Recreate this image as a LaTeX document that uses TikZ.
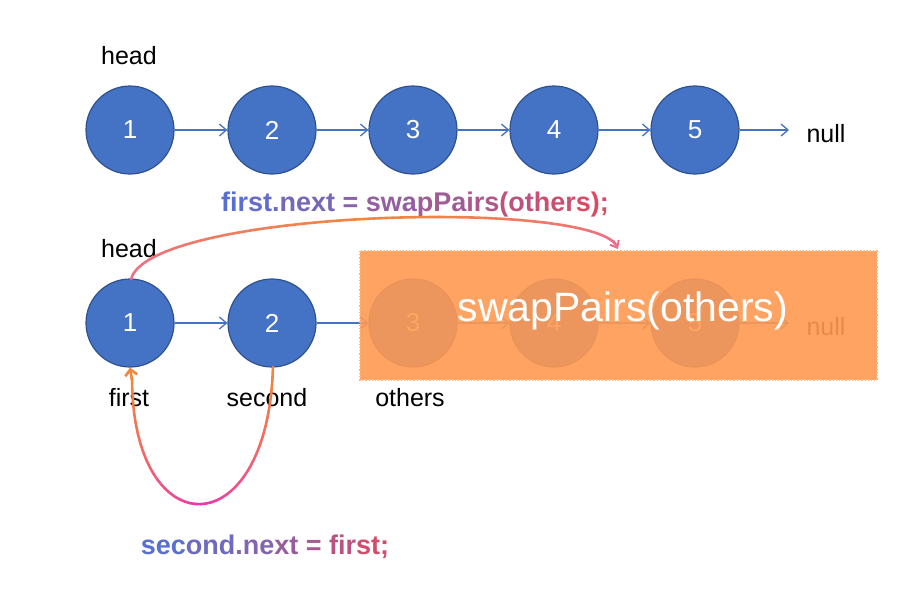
\documentclass[tikz,border=0pt]{standalone}
\usepackage{fontspec}
\setmainfont{Liberation Sans}
\usetikzlibrary{arrows.meta,calc}
\definecolor{nodeblue}{HTML}{4472C4}
\definecolor{nodeedge}{HTML}{2F528F}
\definecolor{boxorange}{HTML}{FF9A52}
\definecolor{curveorange}{HTML}{F0883E}
\definecolor{curvemagenta}{HTML}{F032B4}
\definecolor{curvepink}{HTML}{EC6E8C}
\definecolor{txtA}{HTML}{5A70D0}
\definecolor{txtB}{HTML}{E2485E}
\newcommand{\gradcurve}[9]{%
  \foreach \i in {0,...,39}{%
    \pgfmathsetmacro{\ta}{\i/40}%
    \pgfmathsetmacro{\tb}{(\i+1)/40}%
    \pgfmathsetmacro{\ua}{1-\ta}%
    \pgfmathsetmacro{\ub}{1-\tb}%
    \pgfmathsetmacro{\xa}{\ua*\ua*\ua*#1+3*\ua*\ua*\ta*#3+3*\ua*\ta*\ta*#5+\ta*\ta*\ta*#7}%
    \pgfmathsetmacro{\ya}{\ua*\ua*\ua*#2+3*\ua*\ua*\ta*#4+3*\ua*\ta*\ta*#6+\ta*\ta*\ta*#8}%
    \pgfmathsetmacro{\xb}{\ub*\ub*\ub*#1+3*\ub*\ub*\tb*#3+3*\ub*\tb*\tb*#5+\tb*\tb*\tb*#7}%
    \pgfmathsetmacro{\yb}{\ub*\ub*\ub*#2+3*\ub*\ub*\tb*#4+3*\ub*\tb*\tb*#6+\tb*\tb*\tb*#8}%
    \pgfmathtruncatemacro{\pc}{100*(1-abs(\ta+\tb-1))}%
    \draw[line width=2.6pt, line cap=round, color=#9!\pc!curveA] (\xa,\ya) -- (\xb,\yb);
  }}
\newcommand{\gtxt}[2]{\textcolor{txtB!#1!txtA}{#2}}
\begin{document}
\begin{tikzpicture}[x=1pt,y=-1pt,
  listnode/.style={circle, minimum size=88pt, inner sep=0pt, fill=nodeblue, draw=nodeedge, line width=1.2pt, text=white, font=\fontsize{26}{30}\selectfont},
  link/.style={-{Straight Barb[length=7pt,width=12pt]}, draw=nodeblue, line width=1.3pt},
  lbl/.style={font=\fontsize{25}{30}\selectfont, text=black, inner sep=0pt},
  code/.style={font=\bfseries\fontsize{27}{32}\selectfont, inner sep=0pt}]
\useasboundingbox (0,0) rectangle (914,590);
\fill[white] (0,0) rectangle (914,590);

% top row
\node[lbl] (headA) at (129,56) {head};
\node[listnode] (a1) at (130,130) {1};
\node[listnode] (a2) at (272,130) {2};
\node[listnode] (a3) at (413,130) {3};
\node[listnode] (a4) at (554,130) {4};
\node[listnode] (a5) at (695,130) {5};
\coordinate (nullAend) at (789,130);
\node[lbl] (nullA) at (826,134) {null};
\draw[link] (a1) -- (a2);
\draw[link] (a2) -- (a3);
\draw[link] (a3) -- (a4);
\draw[link] (a4) -- (a5);
\draw[link] (a5) -- (nullAend);

% code text top
\node[code] (codeA) at (415,205) {\gtxt{0}{fir}\gtxt{8}{st.}\gtxt{20}{next}\gtxt{32}{\ =\ }\gtxt{42}{swa}\gtxt{52}{pPa}\gtxt{62}{irs}\gtxt{72}{(ot}\gtxt{83}{her}\gtxt{95}{s);}};

% second row
\node[lbl] (headB) at (129,249) {head};
\node[listnode] (b1) at (130,323) {1};
\node[listnode] (b2) at (272,323) {2};
\node[listnode] (b3) at (413,323) {3};
\node[listnode] (b4) at (554,323) {4};
\node[listnode] (b5) at (695,323) {5};
\coordinate (nullBend) at (789,323);
\node[lbl] (nullB) at (826,327) {null};
\draw[link] (b1) -- (b2);
\draw[link] (b2) -- (b3);
\draw[link] (b3) -- (b4);
\draw[link] (b4) -- (b5);
\draw[link] (b5) -- (nullBend);
\node[lbl] (first) at (129,398) {first};
\node[lbl] (second) at (267,398) {second};
\node[lbl] (others) at (410,398) {others};

% orange overlay box
\fill[boxorange, fill opacity=0.9] (360,251) rectangle (877,380);
\draw[boxorange!75!white, dotted, line width=1.2pt] (360,251) rectangle (877,380);
\node[text=white, font=\fontsize{41}{48}\selectfont, inner sep=0pt] (swapbox) at (623,311) {swapPairs(others)};

% top curve: first.next -> swapPairs
\colorlet{curveA}{curvepink}
\gradcurve{131}{279}{150}{210}{590}{198}{617}{246}{curveorange}
\coordinate (topTipStart) at (613,240);
\coordinate (topTip) at (618,249);
\draw[-{Straight Barb[length=6pt,width=10pt]}, curvepink, line width=2pt] (topTipStart) -- (topTip);

% bottom curve: second.next = first
\colorlet{curveA}{curveorange}
\gradcurve{273}{367}{268}{548}{132}{548}{132}{378}{curvemagenta}
\coordinate (botTipStart) at (132,380);
\draw[-{Straight Barb[length=6pt,width=12pt]}, curveorange, line width=2.6pt] (botTipStart) -- (b1.south);

% code text bottom
\node[code] (codeB) at (265,547) {\gtxt{0}{sec}\gtxt{15}{ond}\gtxt{30}{.ne}\gtxt{45}{xt}\gtxt{55}{\ =\ }\gtxt{70}{fir}\gtxt{88}{st;}};
\end{tikzpicture}
\end{document}
